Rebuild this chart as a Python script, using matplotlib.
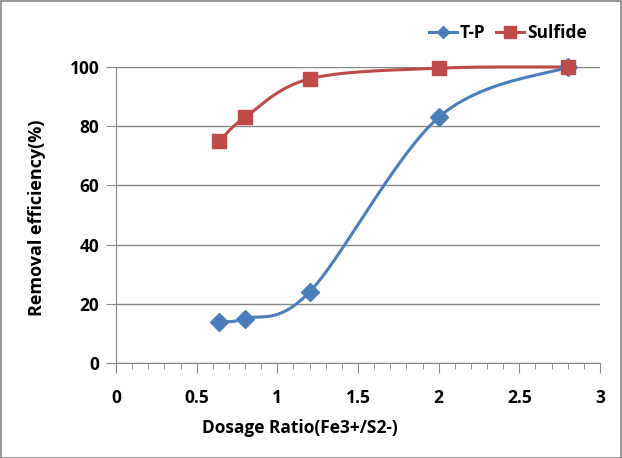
import numpy as np
import matplotlib
matplotlib.use("Agg")
import matplotlib.pyplot as plt
from matplotlib.ticker import MultipleLocator, FuncFormatter

# data
dosage = [0.64, 0.8, 1.2, 2.0, 2.8]
tp = [14, 15, 24, 83, 100]
sulfide = [75, 83, 96, 99.6, 100]

plt.rcParams['font.family'] = ['Open Sans', 'DejaVu Sans']
plt.rcParams['font.weight'] = 'bold'


def smooth(xs, ys, n=40):
    # excel-like smoothed line (catmull-rom bezier through the points)
    p = np.column_stack([xs, ys]).astype(float)
    pts = np.vstack([p[0], p, p[-1]])
    out = []
    t = np.linspace(0, 1, n)[:, None]
    for i in range(1, len(pts) - 2):
        p0, p1, p2, p3 = pts[i - 1], pts[i], pts[i + 1], pts[i + 2]
        c1 = p1 + (p2 - p0) / 6
        c2 = p2 - (p3 - p1) / 6
        seg = ((1 - t) ** 3) * p1 + 3 * ((1 - t) ** 2) * t * c1 + 3 * (1 - t) * t ** 2 * c2 + t ** 3 * p2
        out.append(seg)
    seg = np.vstack(out)
    return seg[:, 0], seg[:, 1]


fig = plt.figure(figsize=(6.22, 4.58), dpi=100)
ax = fig.add_axes([116 / 622, 95 / 458, 484 / 622, 296 / 458])

blue = '#4A7EBB'
red = '#BE4B48'

sx, sy = smooth(dosage, tp)
ax.plot(sx, sy, color=blue, lw=2.2, clip_on=False, zorder=3)
ax.plot(dosage, tp, linestyle='none', marker='D', ms=9, color=blue, clip_on=False, zorder=4)
sx, sy = smooth(dosage, sulfide)
ax.plot(sx, sy, color=red, lw=2.2, clip_on=False, zorder=3)
ax.plot(dosage, sulfide, linestyle='none', marker='s', ms=10, color=red, clip_on=False, zorder=5)

ax.set_xlim(0, 3)
ax.set_ylim(0, 100)
ax.xaxis.set_major_locator(MultipleLocator(0.5))
ax.xaxis.set_minor_locator(MultipleLocator(0.1))
ax.yaxis.set_major_locator(MultipleLocator(20))
ax.xaxis.set_major_formatter(FuncFormatter(lambda v, p: f'{v:g}'))
ax.tick_params(axis='x', which='major', length=7, color='#868686', labelsize=12.5, pad=12)
ax.tick_params(axis='x', which='minor', length=4, color='#868686')
ax.tick_params(axis='y', length=7, color='#868686', labelsize=12.5, pad=5)
for lab in ax.get_xticklabels() + ax.get_yticklabels():
    lab.set_fontweight('bold')

ax.grid(axis='y', color='#868686', lw=1)
ax.set_axisbelow(True)
for s in ['top', 'right']:
    ax.spines[s].set_visible(False)
ax.spines['left'].set_color('#868686')
ax.spines['bottom'].set_color('#868686')

fig.text(300 / 622, 1 - 428 / 458, 'Dosage Ratio(Fe3+/S2-)', ha='center', va='center',
         fontsize=12.5, fontweight='bold')
fig.text(37 / 622, 1 - 218 / 458, 'Removal efficiency(%)', ha='center', va='center',
         rotation=90, fontsize=13, fontweight='bold')

h1, = ax.plot([], [], color=blue, lw=2.2, marker='D', ms=6)
h2, = ax.plot([], [], color=red, lw=2.2, marker='s', ms=9)
fig.legend([h1, h2], ['T-P', 'Sulfide'], loc='center', bbox_to_anchor=(508 / 622, 1 - 33 / 458),
           ncol=2, frameon=False, handlelength=1.6, handletextpad=0.2, columnspacing=0.6,
           prop={'weight': 'bold', 'size': 12.5})

# chart border
fig.patches.append(plt.Rectangle((0.001, 0.001), 0.997, 0.997, transform=fig.transFigure,
                                 fill=False, edgecolor='#868686', lw=1.2))

fig.savefig('out.png', dpi=100)
